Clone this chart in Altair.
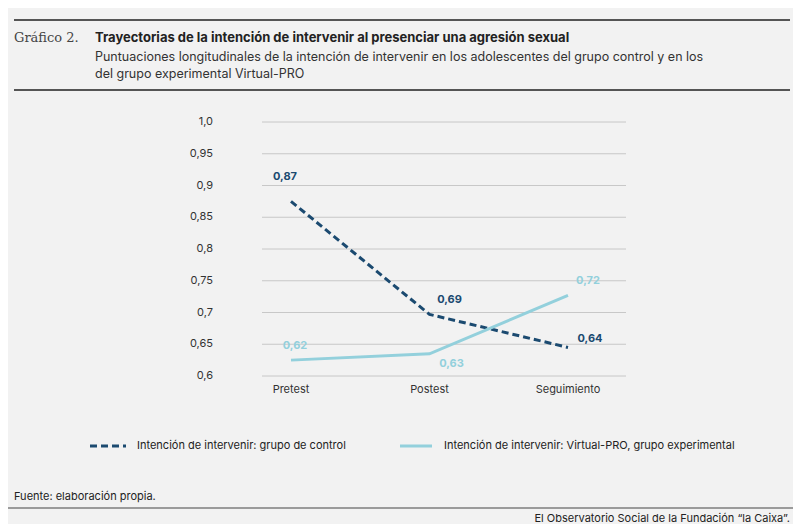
import pandas as pd
import altair as alt

fases = ["Pretest", "Postest", "Seguimiento"]
control = [0.875, 0.697, 0.645]
experimental = [0.625, 0.635, 0.727]
etiquetas_control = ["0,87", "0,69", "0,64"]
etiquetas_exp = ["0,62", "0,63", "0,72"]
ticks = [0.6, 0.65, 0.7, 0.75, 0.8, 0.85, 0.9, 0.95, 1.0]
tick_labels = ["0,6", "0,65", "0,7", "0,75", "0,8", "0,85", "0,9", "0,95", "1,0"]

NAVY = "#1b4a70"
LIGHT = "#93d0dc"
FONT = "Inter"

xs = alt.Scale(domain=fases, range=[283, 560], padding=0)
ys = alt.Scale(domain=[0.6, 1.0], range=[368, 114])

lines = pd.DataFrame({
    "fase": fases * 2,
    "valor": control + experimental,
    "grupo": ["control"] * 3 + ["exp"] * 3,
    "txt": etiquetas_control + etiquetas_exp,
})
grid = pd.DataFrame({"v": ticks, "t": tick_labels})

base = alt.Chart(lines)
x = alt.X("fase:N", scale=xs, axis=None)
y = alt.Y("valor:Q", scale=ys, axis=None)

gridlines = alt.Chart(grid).mark_rule(color="#bdbdbd", strokeWidth=0.8).encode(
    x=alt.value(254), x2=alt.value(618), y=alt.Y("v:Q", scale=ys, axis=None))
gridtext = alt.Chart(grid).mark_text(align="right", baseline="middle", font=FONT, fontSize=11, color="#333").encode(
    x=alt.value(205), y=alt.Y("v:Q", scale=ys, axis=None), text="t:N")
cats = alt.Chart(pd.DataFrame({"fase": fases})).mark_text(font=FONT, fontSize=11, color="#333").encode(
    x=alt.X("fase:N", scale=xs, axis=None), y=alt.value(382), text="fase:N")

ctrl = base.transform_filter("datum.grupo == 'control'")
expg = base.transform_filter("datum.grupo == 'exp'")
line_c = ctrl.mark_line(color=NAVY, strokeWidth=3, strokeDash=[7, 4]).encode(x=x, y=y)
line_e = expg.mark_line(color=LIGHT, strokeWidth=3).encode(x=x, y=y)

def lab(df_chart, color, fase, dx, dy):
    return df_chart.transform_filter(f"datum.fase == '{fase}'").mark_text(
        font=FONT, fontSize=11, fontWeight="bold", color=color, dx=dx, dy=dy).encode(x=x, y=y, text="txt:N")

labels = [
    lab(ctrl, NAVY, "Pretest", -6, -24), lab(ctrl, NAVY, "Postest", 20, -14), lab(ctrl, NAVY, "Seguimiento", 22, -8),
    lab(expg, LIGHT, "Pretest", 4, -14), lab(expg, LIGHT, "Postest", 22, 10), lab(expg, LIGHT, "Seguimiento", 20, -14),
]

def txt(s, px, py, size=12, weight="normal", font=FONT, align="left", color="#222"):
    return alt.Chart(pd.DataFrame({"s": [s]})).mark_text(
        align=align, baseline="middle", fontSize=size, fontWeight=weight, font=font, color=color
    ).encode(x=alt.value(px), y=alt.value(py), text="s:N")

def rule(x1, x2, y1, color="#555", w=2, dash=None):
    kw = {"strokeDash": dash} if dash else {}
    return alt.Chart(pd.DataFrame({"a": [0]})).mark_rule(color=color, strokeWidth=w, **kw).encode(
        x=alt.value(x1), x2=alt.value(x2), y=alt.value(y1))

deco = [
    rule(6, 782, 12), rule(6, 782, 82),
    txt("Gráfico 2.", 6, 30, size=13, font="DejaVu Serif", color="#444"),
    txt("Trayectorias de la intención de intervenir al presenciar una agresión sexual", 87, 30, size=13, weight="bold"),
    txt("Puntuaciones longitudinales de la intención de intervenir en los adolescentes del grupo control y en los", 87, 49, size=12.5, color="#333"),
    txt("del grupo experimental Virtual-PRO", 87, 66, size=12.5, color="#333"),
    rule(82, 118, 438, color=NAVY, w=3, dash=[7, 4]),
    txt("Intención de intervenir: grupo de control", 129, 438, size=11),
    rule(392, 424, 438, color=LIGHT, w=3),
    txt("Intención de intervenir: Virtual-PRO, grupo experimental", 436, 438, size=11),
    txt("Fuente: elaboración propia.", 6, 489, size=11),
    rule(-8, 793, 500, color="#444", w=1),
    txt("El Observatorio Social de la Fundación “la Caixa”.", 782, 511, size=11, align="right"),
]

chart = alt.layer(gridlines, gridtext, cats, line_c, line_e, *labels, *deco).properties(
    width=785, height=516, autosize=alt.AutoSizeParams(type="none"), padding=0, background="#f2f2f2"
).configure_view(strokeOpacity=0)

chart.save("out.html", embed_options={"renderer": "svg", "actions": False})
